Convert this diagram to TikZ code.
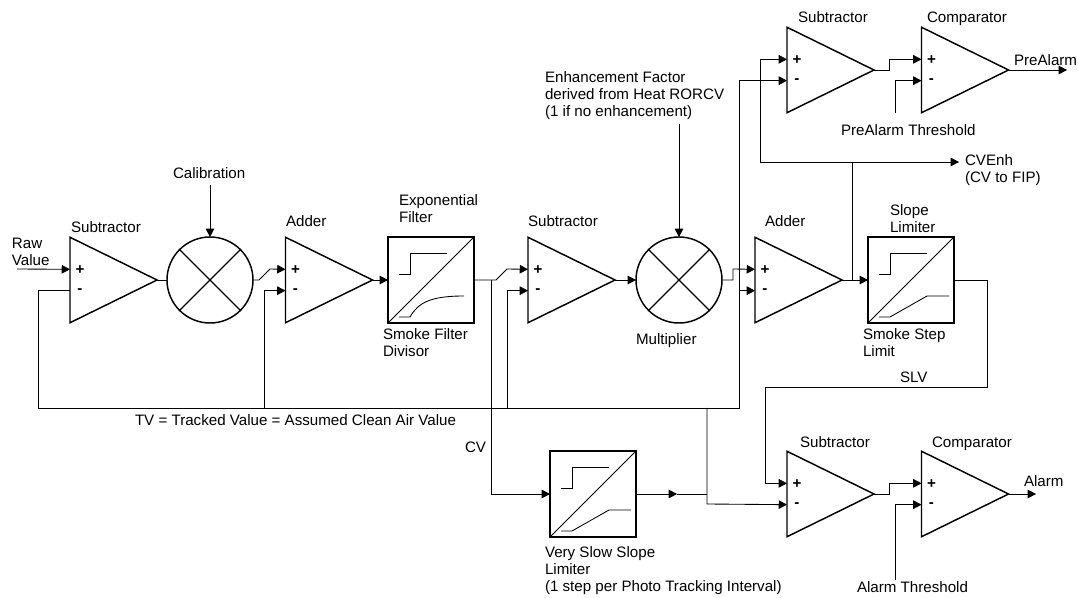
\documentclass[tikz,border=0pt]{standalone}
\usepackage{fontspec}
\setmainfont{Liberation Sans}
\usetikzlibrary{arrows.meta,shapes.geometric}
\tikzset{
  x=0.75pt,y=-0.75pt,
  wire/.style={line width=0.65pt,line join=miter},
  arr/.style={wire,-{Triangle[length=6.2pt,width=6.4pt]}},
  amp/.style={draw,line width=1.1pt,isosceles triangle,isosceles triangle apex angle=52.3,isosceles triangle stretches,minimum width=85.5pt*0.75,minimum height=87pt*0.75,inner sep=0pt,outer sep=0pt,anchor=west},
  mult/.style={draw,line width=1.1pt,circle,minimum size=64.5pt,inner sep=0pt,outer sep=0pt},
  fbox/.style={draw,line width=1.3pt,rectangle,minimum width=64.5pt,minimum height=64.5pt,inner sep=0pt,outer sep=0pt,anchor=north west},
  lab/.style={anchor=west,inner sep=0pt,outer sep=0pt,align=left,font=\fontsize{11.35pt}{12.75pt}\selectfont},
  sgn/.style={anchor=center,inner sep=0pt,outer sep=0pt,font=\fontsize{11.35pt}{12.75pt}\selectfont\bfseries},
  inner/.style={line width=0.65pt}
}
\newcommand{\ampl}[3]{%
  \node[amp] (#1) at (#2,#3) {};
  \coordinate (#1p) at ([yshift=8pt]#1.west);
  \coordinate (#1m) at ([yshift=-8pt]#1.west);
  \node[sgn] (#1plus) at ([xshift=7.5pt,yshift=7.7pt]#1.west) {+};
  \node[sgn] (#1minus) at ([xshift=7.5pt,yshift=-8pt]#1.west) {-};
}
\newcommand{\multl}[3]{%
  \node[mult] (#1) at (#2,#3) {};
  \draw[line width=0.9pt] (#1.45) -- (#1.225) (#1.135) -- (#1.315);
}
\newcommand{\boxl}[3]{%
  \node[fbox] (#1) at (#2,#3) {};
  \draw[inner] (#1.south west) -- (#1.north east);
  \draw[inner] ([shift={(#2,#3)}]11,37) -- ([shift={(#2,#3)}]22,37) -- ([shift={(#2,#3)}]22,16) -- ([shift={(#2,#3)}]59,16);
}
\begin{document}
\begin{tikzpicture}
\useasboundingbox (0,0) rectangle (1078,598);
% blocks
\ampl{sa}{70}{280}
\multl{ma}{210}{280}
\ampl{aa}{285.5}{280}
\boxl{ea}{388}{237}
\draw[inner] (399,317) -- (410,317) .. controls (418,303) and (430,296) .. (464,296);
\ampl{sb}{528}{280}
\multl{mb}{679}{280}
\ampl{ab}{755}{280}
\boxl{eb}{868}{237}
\draw[inner] (879,317) -- (890,317) -- (927,296) -- (949,296);
\ampl{sc}{787}{70}
\ampl{cc}{921.5}{70}
\ampl{sd}{787}{494}
\ampl{cd}{921.5}{494}
\boxl{ec}{550}{451}
\draw[inner] (561,531) -- (572,531) -- (609,510) -- (631,510);
% free ends
\coordinate (rawin) at (17,269);
\coordinate (calin) at (210,185);
\coordinate (enhin) at (679,124);
\coordinate (prethr) at (895,113);
\coordinate (almthr) at (895,580);
\coordinate (preout) at (1067,70);
\coordinate (almout) at (1036,494);
\coordinate (cvout) at (959,162);
\coordinate (tvl) at (38,408);
\coordinate (tvr) at (739,408);
\coordinate (midhead) at (677,494);
% main chain
\draw[arr] (rawin) -- (sap);
\draw[wire] (sa.apex) -- (ma.west);
\draw[arr] (calin) -- (ma.north);
\draw[arr] (ma.east) -- (259,280) -- (270,269) -- (aap);
\draw[arr] (aa.apex) -- (ea.west);
\draw[arr] (ea.east) -- (496,280) -- (507,269) -- (sbp);
\draw[arr] (sb.apex) -- (mb.west);
\draw[arr] (enhin) -- (mb.north);
\draw[arr] (mb.east) -- (733,280) -- (733,269) -- (abp);
\draw[arr] (ab.apex) -- (eb.west);
% feedback TV
\draw[arr] (sam) -| (tvl) -- (tvr) |- (scm);
\draw[arr] (264,408) |- (aam);
\draw[arr] (507,408) |- (sbm);
\draw[arr] (739,408) |- (abm);
% CV
\draw[arr] (491,280) |- (ec.west);
\draw[arr] (ec.east) -- (midhead);
\draw[wire] (midhead) -- (707,494);
\draw[arr] (707,408) -- (707,504) -- (sdm);
% CVEnh and upper
\draw[arr] (852,280) -- (852,162) -- (cvout);
\draw[arr] (852,162) -- (760,162) |- (scp);
\draw[arr] (sc.apex) -- (889,70) |- (ccp);
\draw[arr] (prethr) |- (ccm);
\draw[arr] (cc.apex) -- (preout);
% SLV
\draw[arr] (eb.east) -- (987,280) -- (987,387) -- (765,387) |- (sdp);
\draw[arr] (sd.apex) -- (889,494) |- (cdp);
\draw[arr] (almthr) |- (cdm);
\draw[arr] (cd.apex) -- (almout);
% labels
\node[lab] (l1) at (12,251.5) {Raw\\Value};
\node[lab] (l2) at (71,227) {Subtractor};
\node[lab] (l3) at (173,173) {Calibration};
\node[lab] (l4) at (286,221) {Adder};
\node[lab] (l5) at (399,208.5) {Exponential\\Filter};
\node[lab] (l6) at (383,342.5) {Smoke Filter\\Divisor};
\node[lab] (l7) at (528,221) {Subtractor};
\node[lab] (l8) at (636,340.5) {Multiplier};
\node[lab] (l9) at (545,96) {Enhancement Factor\\derived from Heat RORCV\\(1 if no enhancement)};
\node[lab] (l10) at (765,221) {Adder};
\node[lab] (l11) at (890,219) {Slope\\Limiter};
\node[lab] (l12) at (863,342.5) {Smoke Step\\Limit};
\node[lab] (l13) at (900,377) {SLV};
\node[lab] (l14) at (135,420) {TV = Tracked Value = Assumed Clean Air Value};
\node[lab] (l15) at (465,447) {CV};
\node[lab] (l16) at (545,571) {Very Slow Slope\\Limiter\\(1 step per Photo Tracking Interval)};
\node[lab] (l17) at (798,17) {Subtractor};
\node[lab] (l18) at (927,18.5) {Comparator};
\node[lab] (l19) at (1014,60) {PreAlarm};
\node[lab] (l20) at (841,130) {PreAlarm Threshold};
\node[lab] (l21) at (965,170.5) {CVEnh\\(CV to FIP)};
\node[lab] (l22) at (800,442) {Subtractor};
\node[lab] (l23) at (932,443.5) {Comparator};
\node[lab] (l24) at (1024,481) {Alarm};
\node[lab] (l25) at (857,587) {Alarm Threshold};
\end{tikzpicture}
\end{document}
